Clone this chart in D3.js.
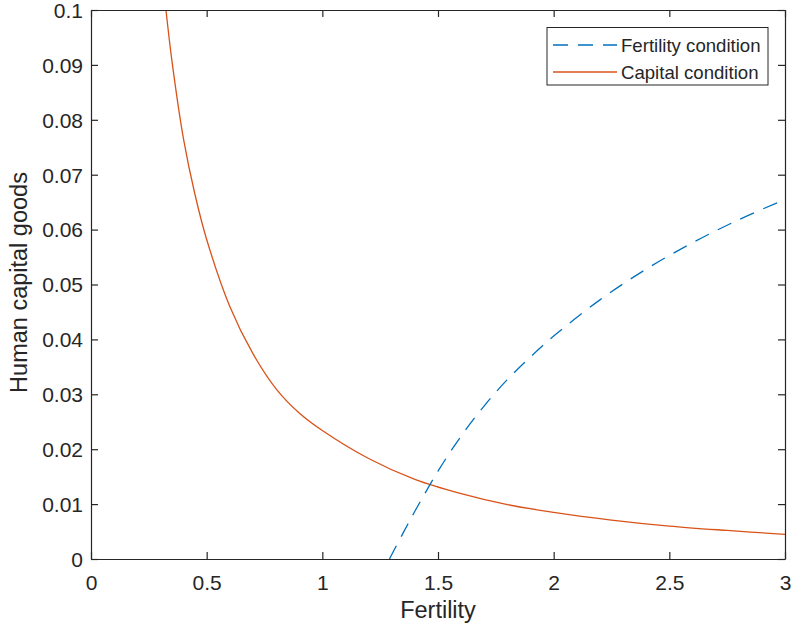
<!DOCTYPE html>
<html>
<head>
<meta charset="utf-8">
<script src="https://cdn.jsdelivr.net/npm/d3@7"></script>
<style>
  html, body { margin: 0; padding: 0; background: #fff; }
  svg { display: block; font-family: "Liberation Sans", Arial, Helvetica, sans-serif; }
</style>
</head>
<body>
<svg id="chart" width="792" height="628"></svg>
<script>
// Fertility condition curve (dashed blue)
const fertilityX = [1.29, 1.35, 1.40, 1.50, 1.60, 1.70, 1.80, 1.90, 2.00, 2.20, 2.40, 2.60, 2.80, 3.00];
const fertilityY = [0.0000, 0.0048, 0.0087, 0.0160, 0.0224, 0.0279, 0.0327, 0.0368, 0.0406, 0.0472, 0.0528, 0.0576, 0.0618, 0.0655];

// Capital condition curve (solid orange)
const capitalX = [0.324, 0.35, 0.40, 0.45, 0.50, 0.60, 0.70, 0.80, 0.90, 1.00, 1.20, 1.40, 1.60, 1.80, 2.00, 2.25, 2.50, 2.75, 3.00];
const capitalY = [0.1000, 0.0907, 0.0765, 0.0663, 0.0582, 0.0460, 0.0374, 0.0310, 0.0266, 0.0234, 0.0183, 0.0145, 0.0119, 0.0099, 0.0085, 0.0071, 0.0060, 0.0052, 0.0045];

const xTicks = [0, 0.5, 1, 1.5, 2, 2.5, 3];
const yTicks = [0, 0.01, 0.02, 0.03, 0.04, 0.05, 0.06, 0.07, 0.08, 0.09, 0.1];
const seriesNames = ["Fertility condition", "Capital condition"];
const seriesColors = ["#0072BD", "#D95319"];

const svg = d3.select("#chart");
const margin = { left: 91, right: 7, top: 10, bottom: 69 };
const W = 792, H = 628;
const x0 = margin.left, x1 = W - margin.right;
const y0 = H - margin.bottom, y1 = margin.top;

const x = d3.scaleLinear().domain([0, 3]).range([x0, x1]);
const y = d3.scaleLinear().domain([0, 0.1]).range([y0, y1]);

const axisColor = "#262626";

// clip region for curves
svg.append("clipPath").attr("id", "plotClip")
  .append("rect").attr("x", x0).attr("y", y1).attr("width", x1 - x0).attr("height", y0 - y1);

const line = d3.line()
  .x(d => x(d[0]))
  .y(d => y(d[1]))
  .curve(d3.curveCatmullRom.alpha(0.5));

const fertData = fertilityX.map((v, i) => [v, fertilityY[i]]);
const capData = capitalX.map((v, i) => [v, capitalY[i]]);

const plot = svg.append("g").attr("clip-path", "url(#plotClip)");
plot.append("path").datum(capData)
  .attr("d", line)
  .attr("fill", "none")
  .attr("stroke", seriesColors[1])
  .attr("stroke-width", 1.3);
plot.append("path").datum(fertData)
  .attr("d", line)
  .attr("fill", "none")
  .attr("stroke", seriesColors[0])
  .attr("stroke-width", 1.3)
  .attr("stroke-dasharray", "15,10");

// axes: ticks pointing inward on all four sides
const fmt = d => String(d);
const tickLen = 7;
const axBottom = svg.append("g").attr("transform", `translate(0,${y0})`)
  .call(d3.axisBottom(x).tickValues(xTicks).tickFormat(fmt).tickSizeInner(-tickLen).tickSizeOuter(0).tickPadding(16));
const axTop = svg.append("g").attr("transform", `translate(0,${y1})`)
  .call(d3.axisTop(x).tickValues(xTicks).tickFormat("").tickSizeInner(-tickLen).tickSizeOuter(0));
const axLeft = svg.append("g").attr("transform", `translate(${x0},0)`)
  .call(d3.axisLeft(y).tickValues(yTicks).tickFormat(fmt).tickSizeInner(-tickLen).tickSizeOuter(0).tickPadding(8));
const axRight = svg.append("g").attr("transform", `translate(${x1},0)`)
  .call(d3.axisRight(y).tickValues(yTicks).tickFormat("").tickSizeInner(-tickLen).tickSizeOuter(0));

[axBottom, axTop, axLeft, axRight].forEach(g => {
  g.select(".domain").attr("stroke", axisColor).attr("stroke-width", 1.2);
  g.selectAll(".tick line").attr("stroke", axisColor).attr("stroke-width", 1.2);
  g.selectAll(".tick text").attr("fill", axisColor).style("font-size", "21px");
});
axBottom.selectAll(".tick text").attr("dy", "0.71em");
axLeft.selectAll(".tick text").attr("dy", "0.35em");

// axis titles
svg.append("text")
  .attr("x", (x0 + x1) / 2).attr("y", 618)
  .attr("text-anchor", "middle")
  .attr("fill", axisColor)
  .style("font-size", "23.5px")
  .text("Fertility");
svg.append("text")
  .attr("transform", `translate(27,${(y0 + y1) / 2 - 2}) rotate(-90)`)
  .attr("text-anchor", "middle")
  .attr("fill", axisColor)
  .style("font-size", "23.5px")
  .text("Human capital goods");

// legend
const lg = svg.append("g");
lg.append("rect")
  .attr("x", 547).attr("y", 27.5).attr("width", 221).attr("height", 57.5)
  .attr("fill", "#fff").attr("stroke", axisColor).attr("stroke-width", 1);
const rowsY = [45, 72];
seriesNames.forEach((name, i) => {
  lg.append("line")
    .attr("x1", 553).attr("x2", 617)
    .attr("y1", rowsY[i]).attr("y2", rowsY[i])
    .attr("stroke", seriesColors[i]).attr("stroke-width", 1.3)
    .attr("stroke-dasharray", i === 0 ? "15,10" : null);
  lg.append("text")
    .attr("x", 621).attr("y", rowsY[i]).attr("dy", "0.35em")
    .attr("fill", axisColor)
    .style("font-size", "18.6px")
    .text(name);
});
</script>
</body>
</html>
